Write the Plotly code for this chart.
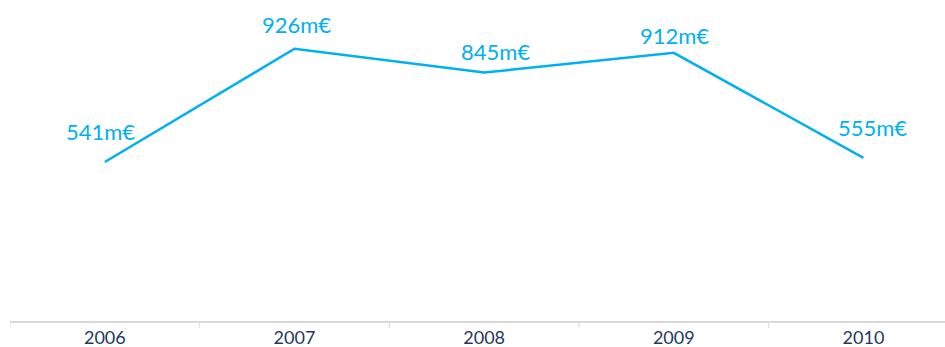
import plotly.graph_objects as go

years = ["2006", "2007", "2008", "2009", "2010"]
revenue_meur = [541, 926, 845, 912, 555]
labels = [f"{v}m€" for v in revenue_meur]

# Per-label nudges (pixels) so the labels clear the line
label_dx = [-4, 2, 11, 1, 9]
label_dy = [15, 9, 6, 2, 15]

LINE_BLUE = "#00B0F0"
NAVY = "#1F3864"
AXIS_GREY = "#D9D9D9"

xpos = list(range(len(years)))

fig = go.Figure(
    go.Scatter(
        x=xpos,
        y=revenue_meur,
        mode="lines",
        line=dict(color=LINE_BLUE, width=2.5),
        hoverinfo="skip",
    )
)

# Value labels sitting above each point
for x, y, t, dx, dy in zip(xpos, revenue_meur, labels, label_dx, label_dy):
    fig.add_annotation(
        x=x, y=y, text=t, showarrow=False,
        xanchor="center", yanchor="bottom", xshift=dx, yshift=dy,
        font=dict(family="Lato", size=22, color=LINE_BLUE),
    )

# Tick marks on the category boundaries
for b in [-0.5, 0.5, 1.5, 2.5, 3.5]:
    fig.add_shape(
        type="line", xref="x", yref="y domain",
        x0=b, x1=b, y0=0, y1=-0.024,
        line=dict(color=AXIS_GREY, width=1),
    )

fig.update_layout(
    width=945,
    height=347,
    margin=dict(l=10, r=0, t=27, b=26),
    paper_bgcolor="white",
    plot_bgcolor="white",
    showlegend=False,
    xaxis=dict(
        range=[-0.5, 4.43],
        tickmode="array",
        tickvals=xpos,
        ticktext=years,
        showgrid=False,
        zeroline=False,
        showline=True,
        linecolor=AXIS_GREY,
        linewidth=1.5,
        ticks="",
        tickfont=dict(family="Lato", size=18, color=NAVY),
    ),
    yaxis=dict(
        range=[0, 1000],
        visible=False,
        showgrid=False,
        zeroline=False,
    ),
)

fig.write_html("out.html")
